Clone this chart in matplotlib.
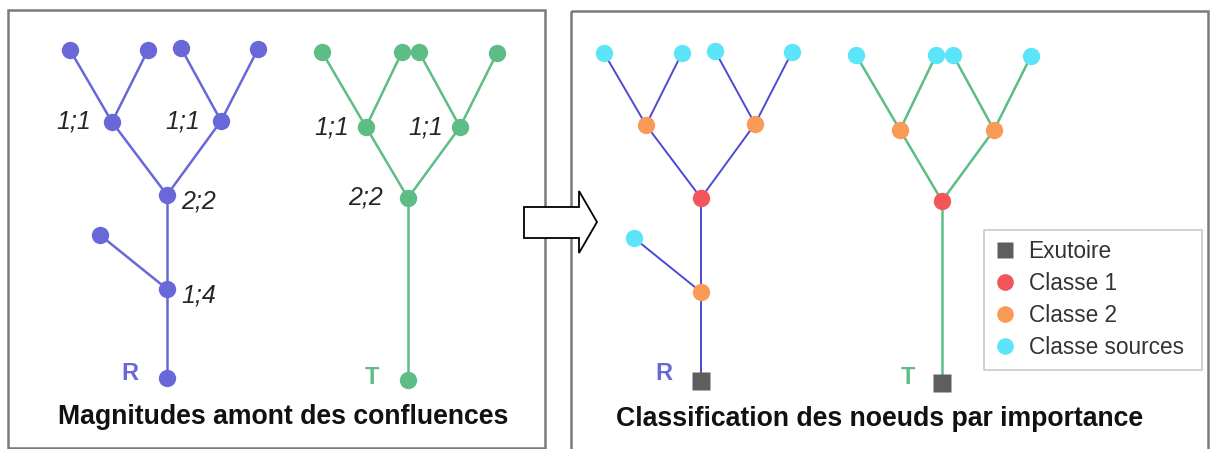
import matplotlib
matplotlib.use("Agg")
import matplotlib.pyplot as plt
from matplotlib.patches import Rectangle, Polygon
from matplotlib.lines import Line2D

plt.rcParams['font.family'] = ['Liberation Sans', 'DejaVu Sans']

# arbre R (noeuds en pixels du panneau de gauche)
r_x = [70, 148, 181, 258, 112, 221, 167, 100, 167, 167]
r_y = [50, 50, 48, 49, 122, 121, 195, 235, 289, 378]
r_aretes = [(0, 4), (1, 4), (2, 5), (3, 5), (4, 6), (5, 6), (7, 8), (6, 8), (8, 9)]
r_magnitudes = {4: '1;1', 5: '1;1', 6: '2;2', 8: '1;4'}
r_classes = ['src', 'src', 'src', 'src', 'c2', 'c2', 'c1', 'src', 'c2', 'out']

# arbre T
t_x = [322, 402, 419, 497, 366, 460, 408, 408]
t_y = [52, 52, 52, 53, 127, 127, 198, 380]
t_aretes = [(0, 4), (1, 4), (2, 5), (3, 5), (4, 6), (5, 6), (6, 7)]
t_magnitudes = {4: '1;1', 5: '1;1', 6: '2;2'}
t_classes = ['src', 'src', 'src', 'src', 'c2', 'c2', 'c1', 'out']

legende_noms = ['Exutoire', 'Classe 1', 'Classe 2', 'Classe sources']
legende_cles = ['out', 'c1', 'c2', 'src']

titres = ['Magnitudes amont des confluences', 'Classification des noeuds par importance']

BLEU = '#6868d8'
BLEU_FONCE = '#4a4ad4'
VERT = '#5dbd85'
couleurs_classes = {'out': '#5e5e5e', 'c1': '#f2555a', 'c2': '#f99a56', 'src': '#5ce5f8'}
DECALAGE = (534, 3)

fig = plt.figure(figsize=(12.12, 4.49), dpi=100)
ax = fig.add_axes([0, 0, 1, 1])
ax.set_xlim(0, 1212)
ax.set_ylim(449, 0)
ax.axis('off')

# cadres
ax.add_patch(Rectangle((8, 10), 537, 438, fill=False, edgecolor='#7a7a7a', lw=1.8))
ax.add_patch(Rectangle((571, 11), 637, 460, fill=False, edgecolor='#7a7a7a', lw=1.8))

# fleche
ax.add_patch(Polygon([(524, 207), (579, 207), (579, 191), (597, 222), (579, 253), (579, 238), (524, 238)],
                     closed=True, facecolor='white', edgecolor='black', lw=1.3, zorder=5))


def dessiner_arbre(xs, ys, aretes, couleur, lw, dx=0, dy=0):
    for a, b in aretes:
        ax.plot([xs[a] + dx, xs[b] + dx], [ys[a] + dy, ys[b] + dy], color=couleur, lw=lw, zorder=2,
                solid_capstyle='round')


# panneau gauche
dessiner_arbre(r_x, r_y, r_aretes, BLEU, 1.8)
dessiner_arbre(t_x, t_y, t_aretes, VERT, 1.8)
ax.plot(r_x, r_y, 'o', color=BLEU, ms=12.5, mec='none', zorder=3)
ax.plot(t_x, t_y, 'o', color=VERT, ms=12.5, mec='none', zorder=3)

# etiquettes de magnitude
style_mag = dict(textcoords='offset points', va='center', fontsize=18, style='italic', color='#262626')
cote_r = {4: 'g', 5: 'g', 6: 'd', 8: 'd'}
for i, txt in r_magnitudes.items():
    if cote_r[i] == 'g':
        ax.annotate(txt, (r_x[i], r_y[i]), xytext=(-15, 0), ha='right', **style_mag)
    else:
        ax.annotate(txt, (r_x[i], r_y[i]), xytext=(10, -5), ha='left', **style_mag)
for i, txt in t_magnitudes.items():
    ax.annotate(txt, (t_x[i], t_y[i]), xytext=(-18 if i == 6 else -12, 0), ha='right', **style_mag)

ax.text(r_x[-1] - 37, r_y[-1] - 5, 'R', color=BLEU, fontsize=17, fontweight='bold', ha='center', va='center')
ax.text(t_x[-1] - 36, t_y[-1] - 3, 'T', color=VERT, fontsize=17, fontweight='bold', ha='center', va='center')

# panneau droit
dx, dy = DECALAGE
dessiner_arbre(r_x, r_y, r_aretes, BLEU_FONCE, 1.4, dx, dy)
dessiner_arbre(t_x, t_y, t_aretes, VERT, 1.8, dx, dy)
for xs, ys, classes in [(r_x, r_y, r_classes), (t_x, t_y, t_classes)]:
    for x, y, c in zip(xs, ys, classes):
        ax.plot(x + dx, y + dy, 's' if c == 'out' else 'o', color=couleurs_classes[c],
                ms=13 if c == 'out' else 12.5, mec='none', zorder=3)

ax.text(r_x[-1] + dx - 37, r_y[-1] + dy - 7, 'R', color=BLEU, fontsize=17, fontweight='bold', ha='center', va='center')
ax.text(t_x[-1] + dx - 34, t_y[-1] + dy - 6, 'T', color=VERT, fontsize=17, fontweight='bold', ha='center', va='center')

# titres
ax.text(283, 417, titres[0], fontsize=19.2, fontweight='bold', ha='center', va='center', color='#111111')
ax.text(880, 419, titres[1], fontsize=19.2, fontweight='bold', ha='center', va='center', color='#111111')

# legende (cadre dessine a part pour la marge droite)
ax.add_patch(Rectangle((984, 230), 218, 140, facecolor='white', edgecolor='#c8c8c8', lw=1.2, zorder=4))
poignees = [Line2D([], [], ls='none', marker='s' if k == 'out' else 'o', color=couleurs_classes[k],
                   ms=12, mec='none') for k in legende_cles]
leg = ax.legend(poignees, legende_noms, loc='upper left', bbox_to_anchor=(984 / 1212, 1 - 230 / 449),
                bbox_transform=fig.transFigure, borderaxespad=0, frameon=False,
                fontsize=16.3, labelspacing=0.41, handletextpad=0.55,
                handlelength=1.0, borderpad=0.42)
leg.set_zorder(5)
for t in leg.get_texts():
    t.set_color('#333333')

fig.savefig('out.png', dpi=100)
